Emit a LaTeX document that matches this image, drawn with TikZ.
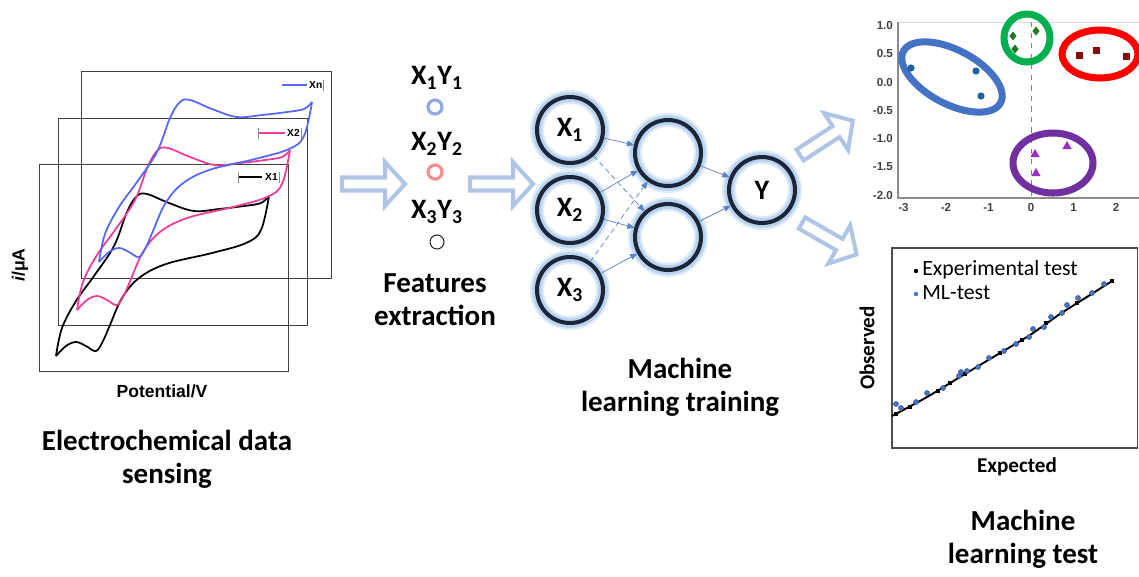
\documentclass[tikz,border=0pt]{standalone}
\usepackage{fontspec}
\setmainfont{Carlito}
\newfontfamily\arialfont{Liberation Sans}
\usetikzlibrary{arrows.meta}

\definecolor{cvblue}{HTML}{5468F5}
\definecolor{cvpink}{HTML}{F03C96}
\definecolor{flowblue}{HTML}{B0C5E6}
\definecolor{ringdark}{HTML}{1B2638}
\definecolor{glowblue}{HTML}{B9D3F0}
\definecolor{edgeblue}{HTML}{5B82C8}
\definecolor{clblue}{HTML}{4472C4}
\definecolor{clgreen}{HTML}{00B050}
\definecolor{clred}{HTML}{FF0000}
\definecolor{clpurple}{HTML}{7030A0}
\definecolor{ptblue}{HTML}{1F5FA8}
\definecolor{ptgreen}{HTML}{217A21}
\definecolor{ptred}{HTML}{8B0A0A}
\definecolor{ptpurple}{HTML}{9B2FC0}
\definecolor{mlblue}{HTML}{4A74C0}

\tikzset{
  frame/.style={draw=black!75, line width=0.5pt},
  cvline/.style={line width=1pt, line join=round},
  title/.style={align=center, font=\fontsize{16.5}{19}\selectfont\bfseries},
  neuron/.style={circle, draw=ringdark, line width=2.3pt, minimum size=1.32cm,
    inner sep=0pt, font=\fontsize{16}{16}\selectfont\bfseries,
    preaction={draw=glowblue!45, line width=8pt},
    preaction={draw=glowblue, line width=5.5pt}},
  link/.style={edgeblue, line width=0.4pt, -{Triangle[length=4pt,width=3.4pt]}},
  flowline/.style={draw=flowblue, line width=2.3pt, line join=miter, fill=white},
  pics/flowarrow/.style={code={
    \draw[flowline] (0,-6.5) -- (43,-6.5) -- (43,-22) -- (63,0) -- (43,22) -- (43,6.5) -- (0,6.5) -- cycle;
  }},
  pics/cvloop/.style={code={
    % upper branch with the peak
    \draw[cvline] plot[smooth, tension=0.6] coordinates {(77,310) (83,282) (97,255) (115,230)
      (135,200) (148,166) (158,150) (168,148) (190,157) (215,165) (240,163) (265,160) (282,157) (290,150)};
    % lower branch
    \draw[cvline] plot[smooth, tension=0.6] coordinates {(77,310) (87,300) (97,296) (107,300)
      (117,305) (124,295) (131,279) (143,252) (160,232) (187,218) (233,207) (267,197) (282,184) (290,150)};
  }},
  ticklab/.style={font=\arialfont\bfseries\fontsize{6.6}{7}\selectfont, text=black!75, inner sep=1pt},
  leglab/.style={font=\arialfont\bfseries\fontsize{5.8}{6}\selectfont, inner sep=0.5pt, anchor=west},
  legbar/.style={draw=black!45, line width=0.4pt}
}

\begin{document}
\begin{tikzpicture}[x=0.02cm, y=-0.02cm, >=Stealth]
    \useasboundingbox (0,0) rectangle (1139,576);

    % --- Voltammograms (three stacked frames) ---
    \draw[frame] (81,71) rectangle (331,278);
    \draw[frame] (58,118) rectangle (307,325);
    \draw[frame] (39,164) rectangle (288,371);

    \pic[black] at (-21,46) {cvloop};
    \pic[cvpink] at (0,0) {cvloop};
    \pic[cvblue] at (22,-48) {cvloop};

    % legends inside the frames
    \draw[cvblue, line width=1pt] (282,85) -- (307,85);
    \node[leglab] (legn) at (308,85) {Xn};
    \draw[legbar] (323,80) -- (323,91);
    \draw[legbar] (258,128) -- (258,139);
    \draw[cvpink, line width=1pt] (259,133) -- (285,133);
    \node[leglab] (leg2) at (286,133) {X2};
    \draw[legbar] (301,128) -- (301,139);
    \draw[legbar] (238,172) -- (238,183);
    \draw[black, line width=1pt] (239,177) -- (262,177);
    \node[leglab] (leg1) at (264,177) {X1};
    \draw[legbar] (279,172) -- (279,183);

    % axis labels
    \node[font=\arialfont\bfseries\fontsize{10}{12}\selectfont] (potlab) at (162,391) {Potential/V};
    \node[font=\arialfont\bfseries\fontsize{10}{12}\selectfont, rotate=90] (curlab) at (20,265) {\itshape i\upshape/μA};

    \node[title] (senselab) at (167,459) {Electrochemical data\\sensing};

    % --- Block arrows between the stages ---
    \pic at (342,184) {flowarrow};
    \pic at (470,184) {flowarrow};
    \pic[rotate=33] at (800,155) {flowarrow};
    \pic[rotate=-30] at (802,223) {flowarrow};

    % --- Features ---
    \node[font=\fontsize{16}{16}\selectfont\bfseries] (f1lab) at (437,78) {X\textsubscript{1}Y\textsubscript{1}};
    \node[circle, draw=clblue!60, line width=1.8pt, minimum size=0.28cm, inner sep=0pt] (f1) at (435,107) {};
    \node[font=\fontsize{16}{16}\selectfont\bfseries] (f2lab) at (437,144) {X\textsubscript{2}Y\textsubscript{2}};
    \node[circle, draw=red!45, line width=1.8pt, minimum size=0.28cm, inner sep=0pt] (f2) at (435,172) {};
    \node[font=\fontsize{16}{16}\selectfont\bfseries] (f3lab) at (437,212) {X\textsubscript{3}Y\textsubscript{3}};
    \node[circle, draw=black!85, line width=0.6pt, minimum size=0.28cm, inner sep=0pt] (f3) at (437,242) {};
    \node[title] (featlab) at (435,300) {Features\\extraction};

    % --- Network ---
    \node[neuron] (x1) at (570,130) {X\textsubscript{1}};
    \node[neuron] (x2) at (570,210) {X\textsubscript{2}};
    \node[neuron] (x3) at (570,290) {X\textsubscript{3}};
    \node[neuron] (h1) at (668,153) {};
    \node[neuron] (h2) at (668,237) {};
    \node[neuron] (y) at (762,190) {Y};

    \draw[link] (x1) -- (h1);
    \draw[link, densely dashed] (x1) -- (h2);
    \draw[link] (x2) -- (h1);
    \draw[link] (x2) -- (h2);
    \draw[link, densely dashed] (x3) -- (h1);
    \draw[link] (x3) -- (h2);
    \draw[link] (h1) -- (y);
    \draw[link] (h2) -- (y);

    \node[title] (trainlab) at (680,387) {Machine\\learning training};

    % --- Cluster plot ---
    \draw[black!15, line width=0.5pt] (898,22) -- (1139,22);
    \draw[black!45, line width=0.6pt] (898,22) -- (898,198) -- (1139,198);
    \draw[black!50, dashed, line width=0.5pt] (1031,22) -- (1031,198);
    \foreach \lab/\yy [count=\i] in {1.0/25.3, 0.5/53.7, 0.0/82, -0.5/110.4, -1.0/138.7, -1.5/167, -2.0/195.4}
        \node[ticklab, anchor=east] (yt\i) at (895,\yy) {\lab};
    \foreach \lab/\xx [count=\i] in {-3/903.5, -2/946, -1/988.5, 0/1031, 1/1073.5, 2/1116}
        \node[ticklab, anchor=north] (xt\i) at (\xx,201) {\lab};

    \draw[clblue, line width=4pt, rotate around={-28:(952,77)}] (952,77) ellipse [x radius=55, y radius=27];
    \draw[clgreen, line width=4pt] (1027,38) ellipse [x radius=23, y radius=24];
    \draw[clred, line width=4pt] (1100,54) ellipse [x radius=38, y radius=24];
    \draw[clpurple, line width=4pt] (1053,163) ellipse [x radius=40, y radius=30];

    \foreach \px/\py in {911/68, 976/71, 981/96}
        \fill[ptblue] (\px,\py) circle [radius=3.6];
    \foreach \px/\py in {1013/36, 1015/49, 1036/31}
        \fill[ptgreen] (\px,\py) +(0,-4.5) -- +(3.6,0) -- +(0,4.5) -- +(-3.6,0) -- cycle;
    \foreach \px/\py in {1079/55, 1096/50, 1126/56}
        \fill[ptred] (\px,\py) +(-3.5,-3.5) rectangle +(3.5,3.5);
    \foreach \px/\py in {1035/154, 1036/173, 1067/146}
        \fill[ptpurple] (\px,\py) +(0,-5) -- +(4.6,3) -- +(-4.6,3) -- cycle;

    % --- Regression plot ---
    \draw[black!70, line width=0.6pt] (892,248) rectangle (1137.5,448);
    \draw[black, line width=1.1pt] plot[smooth] coordinates {(892,416) (927,397) (960,377) (1000,353)
        (1030,335) (1060,314) (1090,295) (1112,281)};
    \foreach \px/\py in {896/414, 910/407, 938/391, 950/383, 965/374, 1000/353, 1022/340, 1046/323, 1077/303, 1112/281}
        \fill[black] (\px,\py) +(-2,-2) rectangle +(2,2);
    \foreach \px/\py in {896/404, 901/408, 916/402, 927/393, 943/388, 959/376, 961/372, 967/371, 978/367,
        989/358, 1004/351, 1016/344, 1029/337, 1033/329, 1044/327, 1051/317, 1062/313, 1067/305, 1078/298, 1092/293, 1104/284}
        \fill[mlblue, draw=mlblue!70!black, line width=0.3pt] (\px,\py) circle [radius=2.5];

    \fill[black] (916,271) circle [radius=2.2];
    \node[anchor=west, font=\fontsize{12.4}{14}\selectfont, inner sep=0pt] (exptest) at (922,270) {Experimental test};
    \fill[mlblue] (916,294) circle [radius=2.2];
    \node[anchor=west, font=\fontsize{12.4}{14}\selectfont, inner sep=0pt] (mltest) at (922,293) {ML-test};

    \node[font=\fontsize{12}{14}\selectfont\bfseries, rotate=90] (obslab) at (867,348) {Observed};
    \node[font=\fontsize{12}{14}\selectfont\bfseries] (explab) at (1017,467) {Expected};

    \node[title] (testlab) at (1023,539) {Machine\\learning test};
\end{tikzpicture}
\end{document}
